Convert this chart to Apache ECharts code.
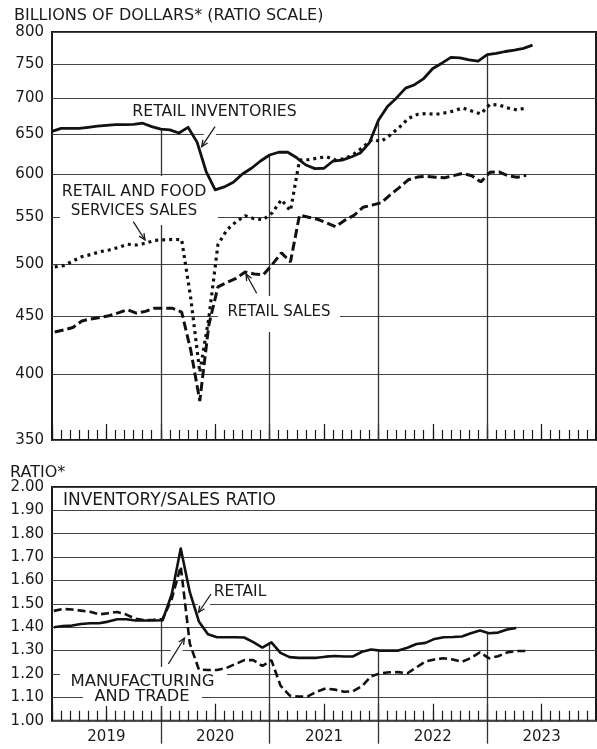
<!DOCTYPE html>
<html><head><meta charset="utf-8">
<script src="https://cdn.jsdelivr.net/npm/echarts@6/dist/echarts.min.js"></script>
<style>html,body{margin:0;padding:0;background:#fff}#c{width:597px;height:749px}</style>
</head><body><div id="c"></div>
<script>
// ---- data ----
const YEARS = ['2019', '2020', '2021', '2022', '2023'];
const TOP_TICKS = [350, 400, 450, 500, 550, 600, 650, 700, 750, 800];
const INV_START = 0;      // month offset (from Jan 2019 axis start) of first point
const SALES_START = 0.3;
const RATIO_START = 0.2;

const RETAIL_INVENTORIES = [654, 658, 658, 658, 659.5, 661, 662, 663, 663, 663.5, 665, 660.5, 657, 656, 652, 659.5, 640, 603, 581, 584.5,
  590, 600, 607, 616, 623.5, 627, 627, 620, 611, 606.5, 607, 616, 617, 621, 626, 639, 669, 688, 700, 714,
  719, 728, 743, 751, 760, 759, 756, 754, 764, 766, 769, 771, 774, 779];
const RETAIL_FOOD_SALES = [497, 498.4, 503, 507.5, 509.7, 512.6, 514.4, 517, 520.4, 519.6, 521.4, 524.4, 525.1, 525.5, 525.3, 466.8, 401.6, 448.2, 520, 535.8,
  544.6, 551.3, 548, 546.9, 554.7, 569.5, 556.9, 617.1, 617.7, 619.7, 621.3, 617.1, 619, 624.7, 633.6, 643.4, 640.8, 649.3, 659.3, 671.4,
  677, 678.3, 677, 679, 681.7, 686, 681.7, 677.6, 691, 690, 685.9, 683.2, 685.9];
const RETAIL_SALES = [435.6, 437.4, 439.6, 445.5, 447.3, 448.7, 450.2, 452.8, 455.7, 452.6, 454.2, 457.1, 457.1, 457, 453.6, 420, 378.8, 442, 477.3, 481.7,
  485.6, 492, 490, 489.1, 499.6, 511.4, 502.1, 552, 549.6, 547.4, 543.5, 539.2, 546.4, 551.8, 560.8, 563.3, 566, 575.2, 583.7, 593,
  596.2, 597.2, 596, 595.4, 598, 600.8, 597.8, 590.5, 602, 602.6, 597.8, 596, 598.4];
const RETAIL_RATIO = [1.40, 1.405, 1.407, 1.414, 1.417, 1.417, 1.424, 1.434, 1.434, 1.429, 1.429, 1.429, 1.43, 1.54, 1.737, 1.55, 1.425, 1.37, 1.357, 1.357,
  1.357, 1.356, 1.336, 1.313, 1.335, 1.29, 1.272, 1.269, 1.269, 1.269, 1.274, 1.277, 1.275, 1.275, 1.295, 1.305, 1.30, 1.30, 1.30, 1.312,
  1.328, 1.333, 1.35, 1.357, 1.358, 1.36, 1.374, 1.386, 1.374, 1.377, 1.39, 1.397];
const MT_RATIO = [1.47, 1.478, 1.476, 1.471, 1.466, 1.455, 1.46, 1.465, 1.454, 1.436, 1.43, 1.432, 1.435, 1.52, 1.66, 1.33, 1.219, 1.217, 1.217, 1.225,
  1.242, 1.259, 1.259, 1.234, 1.259, 1.15, 1.108, 1.103, 1.104, 1.124, 1.138, 1.133, 1.124, 1.126, 1.148, 1.19, 1.203, 1.207, 1.208, 1.203,
  1.228, 1.254, 1.262, 1.267, 1.262, 1.252, 1.268, 1.293, 1.267, 1.276, 1.292, 1.298, 1.298];

// ---- helpers ----
const FONT = 'DejaVu Sans';
const INK = '#1a1a1a';
const YEAR_BOUNDS = YEARS.slice(1).map((y, i) => (i + 1) * 12);
const YEAR_MIDS = YEARS.map((y, i) => i * 12 + 6);
const pts = (arr, start) => arr.map((v, i) => [start + i, v]);

function monthAxis(gridIndex, extra) {
  return Object.assign({
    type: 'value', gridIndex, min: 0, max: 60, position: 'bottom', offset: 0,
    axisLine: { show: false }, splitLine: { show: false }, axisLabel: { show: false }
  }, extra);
}
const tickStyle = { color: INK, width: 1.2 };

function arrow(x1, y1, x2, y2) {
  const dx = x2 - x1, dy = y2 - y1, L = Math.hypot(dx, dy), ux = dx / L, uy = dy / L;
  const h = 7, a = 0.42, c = Math.cos(a), s = Math.sin(a);
  const p1 = [x2 - h * (ux * c - uy * s), y2 - h * (uy * c + ux * s)];
  const p2 = [x2 - h * (ux * c + uy * s), y2 - h * (uy * c - ux * s)];
  return [
    { type: 'line', z: 2, shape: { x1, y1, x2, y2 }, style: { stroke: '#fff', lineWidth: 10 } },
    { type: 'line', z: 6, shape: { x1, y1, x2, y2 }, style: { stroke: INK, lineWidth: 1.3 } },
    { type: 'polyline', z: 6, shape: { points: [p1, [x2, y2], p2] }, style: { stroke: INK, lineWidth: 1.3, fill: null } }
  ];
}
function txt(text, x, y, align, size) {
  return { type: 'text', z: 6, x, y, style: { text, font: (size || 15) + 'px "' + FONT + '"', fill: INK,
    align: align || 'center', verticalAlign: 'middle', textAlign: align || 'center', textVerticalAlign: 'middle' } };
}
function box(x, y, w, h) {
  return { type: 'rect', z: 2, shape: { x, y, width: w, height: h }, style: { fill: '#fff' } };
}

const chart = echarts.init(document.getElementById('c'), null, { renderer: 'canvas' });
chart.setOption({
  animation: false,
  backgroundColor: '#fff',
  textStyle: { fontFamily: FONT },
  grid: [
    { left: 52, right: 1, top: 32, height: 408, show: true, borderColor: INK, borderWidth: 2, backgroundColor: 'transparent' },
    { left: 52, right: 1, top: 487, height: 233.7, show: true, borderColor: INK, borderWidth: 2, backgroundColor: 'transparent' }
  ],
  xAxis: [
    monthAxis(0, { interval: 1, axisTick: { inside: true, length: 10, lineStyle: tickStyle } }),
    monthAxis(0, { interval: 6, axisTick: { inside: true, length: 16, lineStyle: tickStyle } }),
    monthAxis(1, { interval: 1, axisTick: { inside: true, length: 10, lineStyle: tickStyle } }),
    monthAxis(1, { interval: 6, axisTick: { inside: true, length: 17, lineStyle: tickStyle } }),
    monthAxis(1, {
      axisTick: { show: true, inside: false, length: 23, customValues: YEAR_BOUNDS, lineStyle: { color: '#333', width: 1.3 } },
      axisLabel: { show: true, customValues: YEAR_MIDS, margin: 9, fontSize: 15, color: INK, fontFamily: FONT,
        formatter: v => YEARS[Math.round((v - 6) / 12)] }
    })
  ],
  yAxis: [
    { type: 'log', gridIndex: 0, min: 350, max: 800, logBase: 10,
      axisLine: { show: false },
      axisTick: { show: false, customValues: TOP_TICKS },
      axisLabel: { customValues: TOP_TICKS, fontSize: 15, color: INK, margin: 8, fontFamily: FONT },
      splitLine: { show: true, lineStyle: { color: '#444', width: 1.2 } } },
    { type: 'value', gridIndex: 1, min: 1, max: 2, interval: 0.1,
      axisLine: { show: false }, axisTick: { show: false },
      axisLabel: { fontSize: 15, color: INK, margin: 8, fontFamily: FONT, formatter: v => v.toFixed(2) },
      splitLine: { show: true, lineStyle: { color: '#444', width: 1.2 } } }
  ],
  series: [
    { type: 'lines', coordinateSystem: 'cartesian2d', xAxisIndex: 0, yAxisIndex: 0, z: 1, silent: true,
      lineStyle: { color: '#333', width: 1.3, opacity: 1 },
      data: YEAR_BOUNDS.map(b => ({ coords: [[b, RETAIL_INVENTORIES[b - INV_START]], [b, TOP_TICKS[0]]] })) },
    { type: 'lines', coordinateSystem: 'cartesian2d', xAxisIndex: 2, yAxisIndex: 1, z: 1, silent: true,
      lineStyle: { color: '#333', width: 1.3, opacity: 1 },
      data: YEAR_BOUNDS.map(b => ({ coords: [[b, RETAIL_RATIO[b]], [b, 1]] })) },
    { name: 'Retail inventories', type: 'line', xAxisIndex: 0, yAxisIndex: 0, z: 3, showSymbol: false, symbol: 'none',
      lineStyle: { color: '#111', width: 2.8, join: 'round' }, data: pts(RETAIL_INVENTORIES, INV_START) },
    { name: 'Retail and food services sales', type: 'line', xAxisIndex: 0, yAxisIndex: 0, z: 3, symbol: 'none',
      lineStyle: { color: '#111', width: 3.2, type: [3, 4], cap: 'butt' }, data: pts(RETAIL_FOOD_SALES, SALES_START) },
    { name: 'Retail sales', type: 'line', xAxisIndex: 0, yAxisIndex: 0, z: 3, symbol: 'none',
      lineStyle: { color: '#111', width: 3, type: [9, 4], cap: 'butt' }, data: pts(RETAIL_SALES, SALES_START) },
    { name: 'Retail', type: 'line', xAxisIndex: 2, yAxisIndex: 1, z: 3, symbol: 'none',
      lineStyle: { color: '#111', width: 2.6, join: 'round' }, data: pts(RETAIL_RATIO, RATIO_START) },
    { name: 'Manufacturing and trade', type: 'line', xAxisIndex: 2, yAxisIndex: 1, z: 3, symbol: 'none',
      lineStyle: { color: '#111', width: 2.6, type: [8, 4], cap: 'butt' }, data: pts(MT_RATIO, RATIO_START) }
  ],
  graphic: [
    box(60, 176, 158, 49),
    box(218, 296, 122, 36),
    box(60, 667, 167, 21),
    box(83, 688, 119, 18),
    ...arrow(215, 126.7, 201.7, 146.7),
    ...arrow(133.3, 221.7, 145, 240),
    ...arrow(256.7, 293.3, 246, 274),
    ...arrow(211, 594, 198.5, 612.5),
    ...arrow(168.3, 664, 184.5, 638),
    txt('BILLIONS OF DOLLARS* (RATIO SCALE)', 14, 15.5, 'left', 16),
    txt('RETAIL INVENTORIES', 214.5, 112, 'center', 15.7),
    txt('RETAIL AND FOOD', 134, 192, 'center', 15.8),
    txt('SERVICES SALES', 134, 211.5, 'center', 15.2),
    txt('RETAIL SALES', 279, 312.5, 'center', 15),
    txt('RATIO*', 10, 472.5, 'left', 16),
    txt('INVENTORY/SALES RATIO', 63, 500.5, 'left', 17),
    txt('RETAIL', 240, 591.5, 'center', 15.5),
    txt('MANUFACTURING', 142.5, 681.5, 'center', 16.5),
    txt('AND TRADE', 142, 697, 'center', 16.2)
  ]
});
</script></body></html>
